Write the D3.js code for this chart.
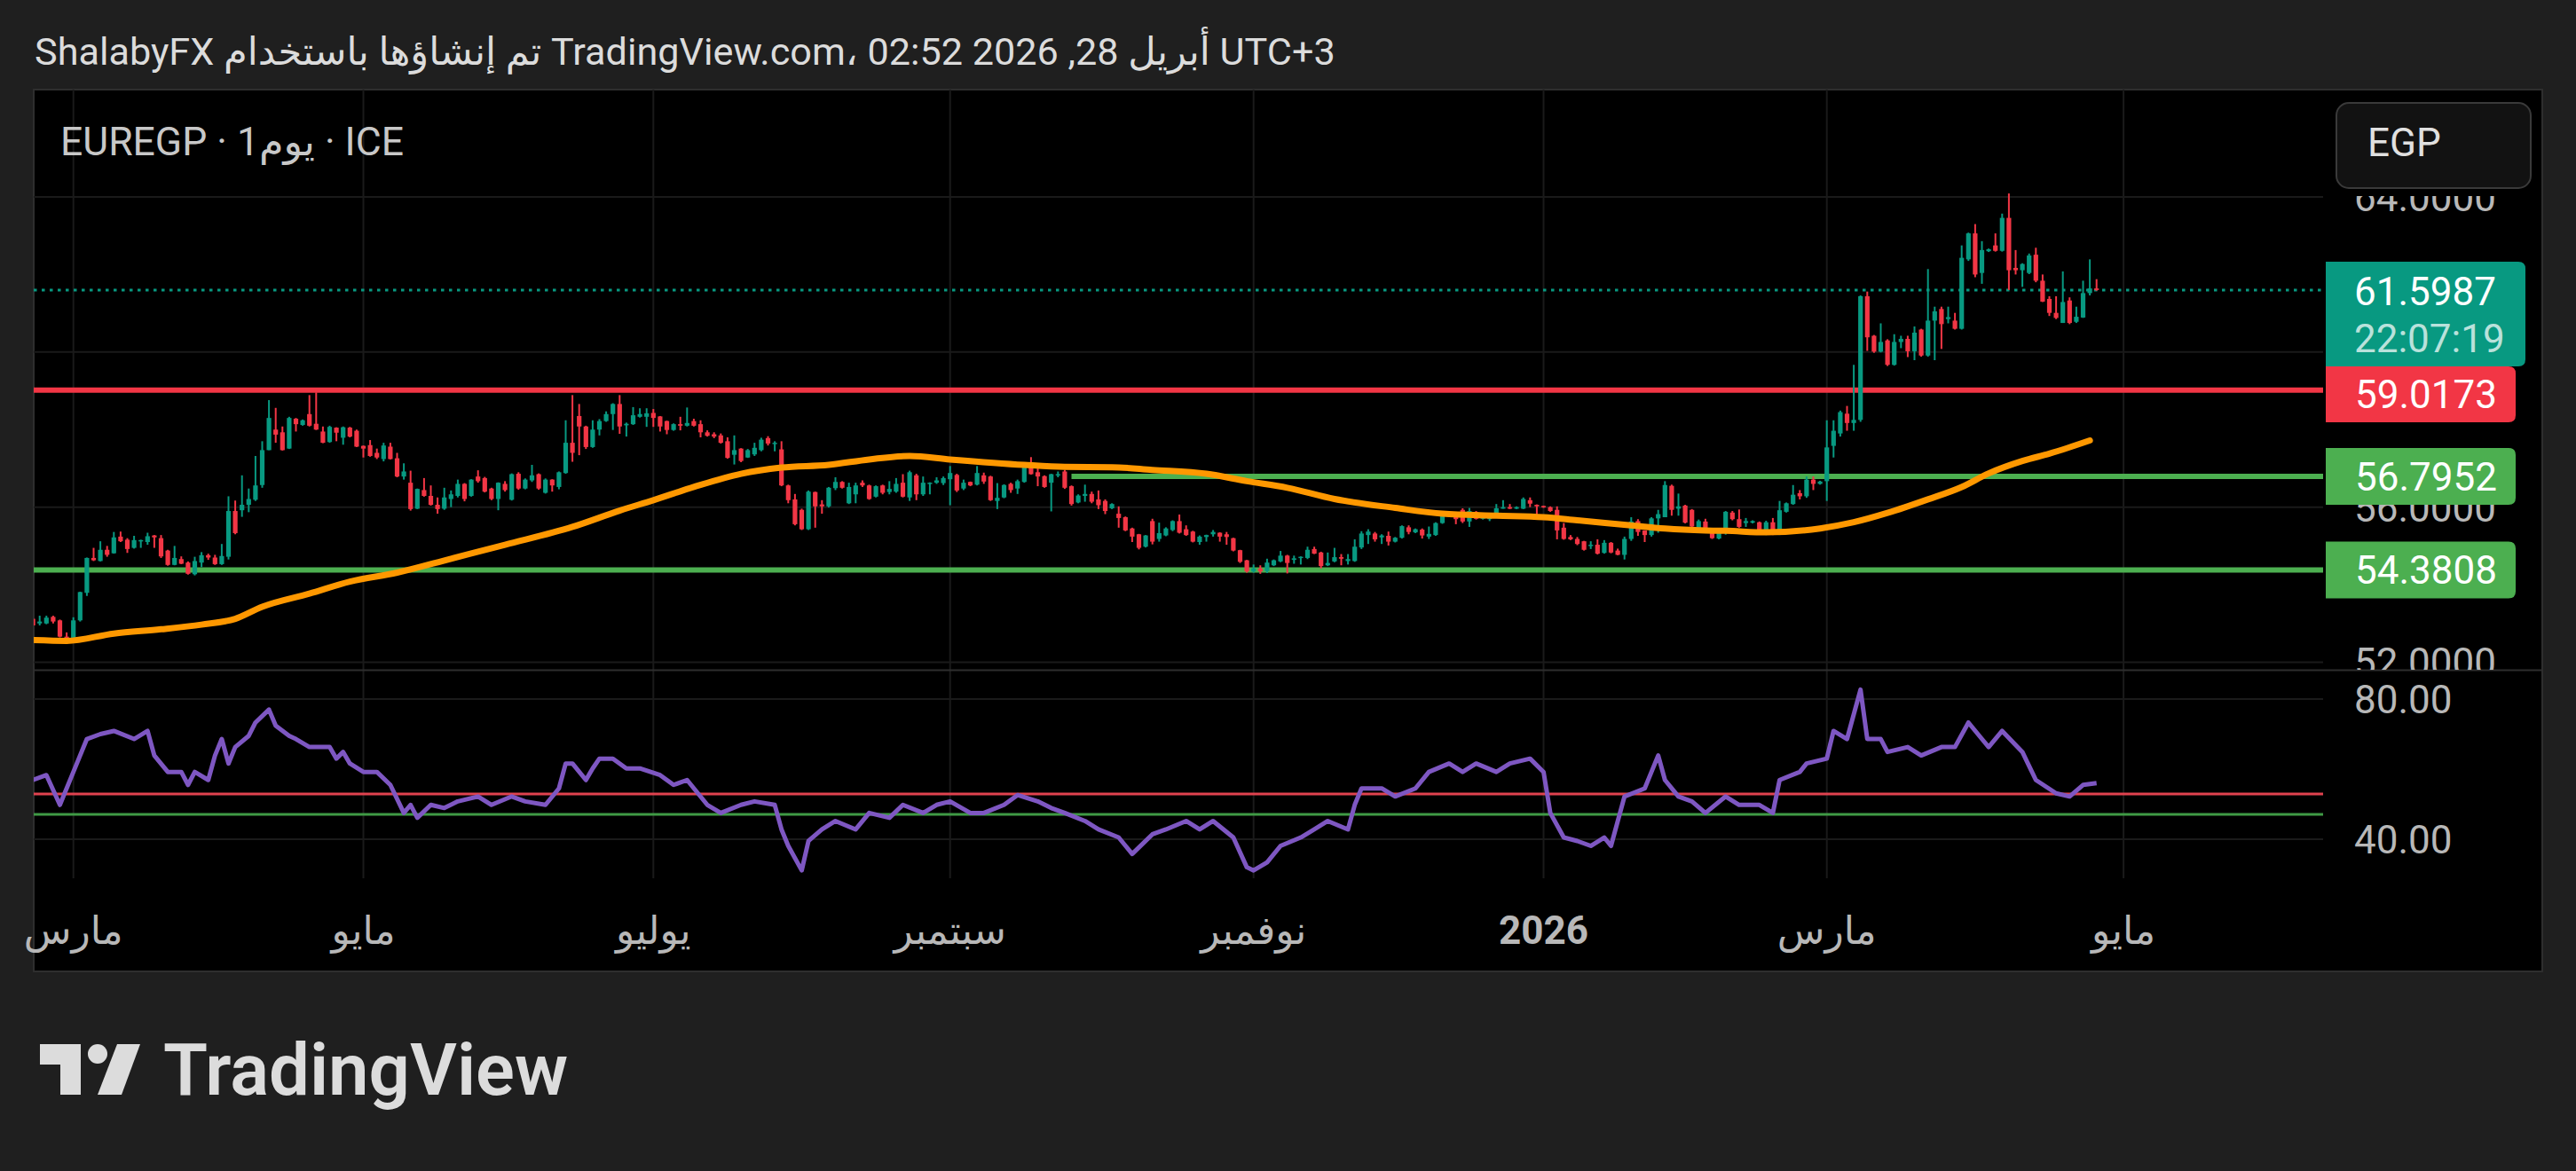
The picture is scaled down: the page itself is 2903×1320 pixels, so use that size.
<!DOCTYPE html>
<html>
<head>
<meta charset="utf-8">
<script src="https://cdnjs.cloudflare.com/ajax/libs/d3/7.8.5/d3.min.js"></script>
<style>
  body { margin: 0; background: #1f1f1f; }
  svg { display: block; }
  text { font-family: Roboto, "DejaVu Sans", sans-serif; }
</style>
</head>
<body>
<svg id="chart" width="2903" height="1320"></svg>
<script>
// ---- data ----
const startDate = "2025-02-21";   // first (clipped) daily bar

const opens = [
53.12,53.0,53.0,53.17,53.08,52.66,52.55,53.08,53.79,54.69,
54.61,54.9,54.81,55.24,55.16,54.95,55.12,55.1,55.27,55.2,
54.88,54.51,54.66,54.57,54.27,54.57,54.76,54.7,54.53,54.72,
55.9,55.92,56.06,56.19,56.57,57.47,58.0,57.93,57.51,58.28,
58.12,58.4,58.15,57.95,57.68,58.05,57.79,58.05,57.97,57.58,
57.6,57.4,57.24,57.56,57.26,56.79,56.63,55.96,56.44,56.29,
56.06,55.96,56.21,56.29,56.6,56.29,56.79,56.75,56.48,56.21,
56.6,56.19,56.86,56.48,56.69,56.85,56.37,56.71,56.52,56.88,
57.66,58.35,58.08,57.55,58.0,58.22,58.4,58.66,58.11,58.14,
58.33,58.33,58.43,58.34,58.22,57.99,58.14,58.1,58.22,58.14,
57.93,57.88,57.85,57.7,57.35,57.51,57.28,57.36,57.47,57.78,
57.64,57.49,56.56,56.2,55.93,55.43,56.39,56.07,56.02,56.49,
56.65,56.1,56.33,56.63,56.56,56.27,56.56,56.39,56.4,56.63,
56.25,56.82,56.33,56.6,56.63,56.62,56.72,56.83,56.48,56.65,
56.58,56.82,56.79,56.16,56.25,56.6,56.48,56.65,57.04,56.9,
56.8,56.63,56.82,56.92,56.54,56.12,56.29,56.34,56.2,56.16,
55.97,55.83,55.74,55.45,55.3,54.98,55.64,55.18,55.27,55.41,
55.64,55.43,55.37,55.1,55.23,55.3,55.34,55.3,55.2,54.89,
54.63,54.34,54.42,54.35,54.5,54.6,54.75,54.64,54.69,54.69,
54.92,54.83,54.5,54.6,54.71,54.61,54.61,54.96,55.28,55.32,
55.22,55.26,55.11,55.21,55.48,55.35,55.42,55.24,55.28,55.59,
55.82,55.81,55.93,55.63,55.87,55.7,55.69,55.74,55.96,56.0,
55.96,55.96,56.18,56.06,56.03,56.0,55.93,55.47,55.23,55.18,
55.12,55.0,55.03,54.82,55.08,54.88,54.77,55.18,55.64,55.4,
55.28,55.71,55.74,56.55,55.96,56.04,55.93,55.45,55.63,55.41,
55.19,55.33,55.86,55.69,55.59,55.6,55.61,55.33,55.61,55.29,
55.88,56.08,56.36,56.28,56.71,56.6,56.67,57.58,57.9,58.41,
58.17,58.25,61.44,60.42,60.01,60.3,59.67,60.26,60.34,60.02,
60.58,59.91,60.81,61.11,60.85,60.81,60.6,62.39,63.06,62.04,
62.6,62.75,62.61,63.46,62.17,62.11,62.04,62.51,61.84,61.37,
61.01,60.75,61.33,60.78,60.89,61.52,61.64];

const highs = [
53.15,53.2,53.2,53.2,53.1,52.77,53.16,53.82,54.7,54.95,
55.12,55.0,55.36,55.37,55.2,55.26,55.16,55.34,55.28,55.28,
54.9,55.0,54.73,54.6,54.72,54.84,54.8,54.77,55.05,56.28,
56.17,56.82,56.48,57.32,57.7,58.76,58.56,58.08,58.33,58.3,
58.26,58.89,58.96,58.08,58.1,58.06,58.08,58.07,58.0,57.59,
57.73,57.51,57.66,57.66,57.4,57.13,56.94,56.48,56.75,56.56,
56.25,56.5,56.43,56.71,56.62,56.72,56.95,56.78,56.5,56.64,
56.67,56.87,56.9,56.74,57.09,56.87,56.74,56.72,56.92,58.24,
58.89,58.66,58.1,58.24,58.27,58.47,58.68,58.89,58.18,58.58,
58.55,58.55,58.53,58.35,58.23,58.16,58.33,58.57,58.28,58.24,
57.98,57.93,57.9,57.8,57.85,57.52,57.5,57.66,57.79,57.83,
57.7,57.7,56.58,56.34,55.96,56.43,56.4,56.18,56.52,56.77,
56.67,56.63,56.63,56.69,56.58,56.56,56.58,56.67,56.75,56.85,
56.94,56.86,56.79,56.64,56.77,56.79,57.06,56.86,56.71,56.66,
57.06,56.89,56.81,56.62,56.59,56.63,56.71,57.09,57.29,57.11,
56.82,56.86,56.92,56.96,56.56,56.33,56.58,56.4,56.43,56.2,
56.1,56.02,55.76,55.47,55.31,55.28,55.7,55.6,55.48,55.66,
55.81,55.53,55.39,55.27,55.29,55.41,55.35,55.36,55.21,54.9,
54.64,54.52,54.5,54.67,54.65,54.87,54.77,54.75,54.73,54.98,
54.98,54.85,54.83,54.95,54.79,54.79,55.17,55.38,55.43,55.36,
55.3,55.37,55.23,55.53,55.53,55.45,55.45,55.5,55.61,55.87,
55.84,55.82,55.97,55.98,55.9,55.82,55.84,56.08,56.18,56.08,
56.02,56.25,56.25,56.07,56.04,56.02,56.02,55.59,55.28,55.23,
55.13,55.12,55.17,55.15,55.1,54.93,55.24,55.74,55.69,55.4,
55.74,55.93,56.67,56.58,56.35,56.06,55.95,55.68,55.7,55.45,
55.45,55.9,55.9,55.94,55.72,55.66,55.63,55.65,55.72,56.16,
56.12,56.57,56.44,56.79,56.79,56.68,58.24,58.24,58.49,58.61,
59.67,61.46,61.56,60.44,60.74,60.33,60.46,60.42,60.42,60.66,
60.6,62.14,61.17,61.17,61.17,61.01,62.75,63.08,63.3,62.86,
62.67,63.06,63.57,64.09,62.63,62.29,62.54,62.69,62.0,61.44,
61.44,62.08,61.41,61.17,61.84,62.39,61.88];

const lows = [
52.93,52.95,52.98,53.0,52.64,52.47,52.52,53.05,53.71,54.61,
54.6,54.72,54.8,55.1,54.82,54.93,54.95,55.03,54.95,54.69,
54.49,54.5,54.53,54.26,54.24,54.45,54.64,54.51,54.51,54.65,
55.3,55.75,55.87,56.16,56.5,57.47,57.66,57.46,57.5,57.95,
58.1,58.08,57.99,57.65,57.66,57.7,57.61,57.8,57.55,57.28,
57.3,57.24,57.18,57.23,56.77,56.71,55.91,55.95,56.27,56.04,
55.83,55.93,56.0,56.25,56.15,56.27,56.63,56.38,56.18,55.92,
56.4,56.17,56.45,56.46,56.65,56.45,56.35,56.4,56.46,56.86,
57.17,57.34,57.5,57.53,57.85,58.2,57.99,57.89,57.82,58.12,
58.31,58.07,58.07,57.95,57.88,57.97,57.98,58.08,58.08,57.8,
57.82,57.78,57.64,57.25,57.1,57.16,57.27,57.32,57.44,57.59,
57.44,56.54,56.1,55.53,55.41,55.41,55.47,55.83,55.99,56.44,
56.48,56.08,56.1,56.52,56.19,56.25,56.33,56.33,56.37,56.25,
56.16,56.18,56.29,56.33,56.6,56.57,56.05,56.39,56.44,56.54,
56.56,56.6,56.16,55.95,56.23,56.37,56.34,56.63,56.84,56.54,
56.5,55.89,56.77,56.47,56.04,56.1,56.14,56.1,55.95,55.82,
55.95,55.47,55.38,55.1,54.91,54.96,55.04,55.11,55.25,55.38,
55.32,55.26,55.09,55.03,55.11,55.24,55.11,55.03,54.86,54.56,
54.31,54.31,54.28,54.3,54.48,54.58,54.29,54.54,54.52,54.66,
54.79,54.42,54.48,54.58,54.5,54.52,54.59,54.92,55.05,55.11,
55.05,55.01,55.09,55.19,55.3,55.33,55.19,55.18,55.26,55.57,
55.75,55.56,55.59,55.49,55.68,55.68,55.64,55.72,55.96,55.95,
55.95,55.95,56.0,55.8,55.98,55.88,55.17,55.16,55.15,55.02,
54.88,54.92,54.78,54.8,54.81,54.76,54.65,55.13,55.26,55.1,
55.24,55.34,55.74,55.78,55.78,55.58,55.48,55.35,55.36,55.18,
55.17,55.29,55.66,55.47,55.49,55.58,55.31,55.28,55.28,55.28,
55.86,56.06,56.2,56.24,56.44,56.58,56.16,57.28,57.82,57.97,
57.97,58.2,60.03,59.98,59.99,59.64,59.65,60.1,59.87,59.79,
59.88,59.88,59.79,60.08,60.74,60.58,60.58,62.35,61.93,61.76,
62.58,62.59,62.59,61.6,62.0,61.68,62.01,61.8,61.29,60.93,
60.85,60.75,60.72,60.75,60.88,61.46,61.58];

const closes = [
52.95,53.05,53.15,53.05,52.66,52.55,53.08,53.81,54.69,54.63,
54.9,54.77,55.22,55.12,54.92,55.15,55.15,55.25,55.22,54.73,
54.51,54.69,54.54,54.28,54.61,54.76,54.7,54.53,54.74,55.9,
55.33,56.06,56.21,56.56,57.47,58.3,57.87,57.47,58.3,58.14,
58.24,58.1,58.0,57.66,58.07,57.92,58.06,57.82,57.56,57.51,
57.32,57.28,57.59,57.24,56.79,56.92,55.95,56.47,56.29,56.06,
55.95,56.25,56.33,56.6,56.21,56.71,56.67,56.4,56.21,56.63,
56.44,56.85,56.48,56.71,56.82,56.48,56.71,56.56,56.9,57.66,
57.4,58.08,57.55,58.0,58.22,58.4,58.66,58.08,58.15,58.37,
58.4,58.42,58.3,58.08,57.99,58.14,58.1,58.17,58.1,57.93,
57.84,57.82,57.66,57.27,57.47,57.19,57.47,57.53,57.74,57.64,
57.66,56.56,56.18,55.56,55.43,56.4,56.02,56.02,56.5,56.65,
56.5,56.52,56.56,56.56,56.21,56.54,56.37,56.47,56.6,56.27,
56.9,56.33,56.63,56.63,56.69,56.75,56.88,56.43,56.63,56.56,
56.88,56.66,56.18,56.24,56.57,56.44,56.67,57.08,56.85,56.79,
56.52,56.85,56.85,56.5,56.08,56.3,56.34,56.14,56.05,55.9,
56.08,55.72,55.4,55.24,54.95,55.27,55.11,55.33,55.45,55.64,
55.34,55.28,55.11,55.24,55.28,55.36,55.24,55.23,54.88,54.59,
54.34,54.42,54.34,54.57,54.63,54.75,54.56,54.68,54.72,54.9,
54.8,54.48,54.56,54.71,54.67,54.66,54.98,55.32,55.37,55.17,
55.27,55.11,55.21,55.51,55.36,55.43,55.27,55.31,55.59,55.84,
55.8,55.69,55.63,55.9,55.7,55.79,55.79,55.97,56.0,55.96,
56.0,56.21,56.09,56.02,56.0,55.9,55.4,55.18,55.17,55.05,
54.9,55.03,54.8,55.08,54.83,54.77,55.18,55.63,55.36,55.28,
55.71,55.82,56.57,55.93,56.02,55.6,55.5,55.64,55.4,55.2,
55.43,55.88,55.69,55.49,55.64,55.64,55.33,55.61,55.29,55.92,
56.1,56.32,56.28,56.71,56.6,56.66,57.54,57.97,58.45,58.17,
58.25,61.44,60.38,60.01,60.26,59.67,60.26,60.34,60.02,60.5,
59.91,60.81,61.05,60.72,60.9,60.6,62.43,63.06,62.0,62.63,
62.65,62.61,63.46,62.11,62.11,62.27,62.49,61.84,61.3,61.01,
60.88,61.29,60.75,60.91,61.52,61.64,61.6];

// orange moving average, read at these bars
const maIdx = [0,5,12,19,25,30,34,41,47,54,62,70,80,87,92,98,105,111,118,124,130,136,147,153,160,166,174,180,186,193,202,209,217,224,229,237,242,248,251,257,265,270,275,281,286,290,295,299,305];
const maVal = [52.57,52.55,52.74,52.85,52.97,53.12,53.43,53.77,54.08,54.31,54.67,55.03,55.49,55.91,56.18,56.52,56.86,57.02,57.09,57.23,57.32,57.23,57.09,57.04,57.03,56.96,56.86,56.67,56.5,56.21,55.98,55.83,55.78,55.74,55.66,55.53,55.45,55.4,55.39,55.35,55.45,55.61,55.85,56.2,56.52,56.87,57.19,57.38,57.72];

// RSI, read at these bars
const rsiIdx = [0,2,4,6,8,10,12,15,17,18,20,22,23,24,26,27,28,29,30,32,33,35,36,38,39,41,44,45,46,47,49,51,53,55,56,57,59,61,63,66,68,71,73,76,78,79,80,82,83,84,86,88,90,93,95,97,100,102,105,107,110,111,112,114,115,117,119,122,124,127,129,132,134,136,139,141,144,146,149,151,153,156,158,161,163,166,168,171,173,175,178,180,181,183,185,188,190,192,195,196,197,200,202,205,207,210,212,214,217,219,222,224,225,227,229,231,233,234,236,239,240,241,242,244,246,248,251,253,256,258,259,262,263,266,267,269,271,272,274,275,278,280,283,285,287,289,290,292,295,297,300,302,304,306];
const rsiVal = [56.9,58.3,49.8,59.2,68.6,70.0,70.9,68.6,70.9,63.9,59.2,59.2,55.5,59.2,56.9,63.9,68.6,61.6,66.3,69.5,73.3,77.0,72.4,69.5,68.6,66.3,66.3,63.0,64.9,61.6,59.2,59.2,55.5,47.5,49.8,46.1,49.8,48.9,50.8,52.2,49.8,52.2,50.8,49.8,54.5,61.6,61.6,56.9,60.2,63.0,63.0,60.2,60.2,58.3,55.5,56.9,49.8,47.5,49.8,50.8,49.8,42.8,38.1,31.1,39.5,42.8,45.2,42.8,47.5,46.1,49.8,47.5,49.8,50.8,47.5,47.5,49.8,52.6,50.8,48.9,47.5,45.2,42.8,40.5,35.8,41.4,42.8,45.2,42.8,45.2,40.5,32.0,31.1,33.4,38.1,40.5,42.8,45.2,42.8,49.8,54.5,54.5,52.2,54.5,59.2,61.6,59.2,61.6,59.2,61.6,63.0,59.2,47.5,40.5,39.5,38.1,40.5,38.1,52.2,54.5,59.2,63.9,56.9,52.2,50.8,47.5,52.2,49.8,49.8,47.5,56.9,59.2,61.6,63.0,70.9,68.6,82.7,68.6,68.6,64.9,66.3,63.9,66.3,66.3,73.3,68.6,66.3,70.9,64.9,56.9,53.1,52.2,55.5,56.0];

const lastPrice = 61.5987;
const countdown = "22:07:19";
const levelValues = [59.0173, 56.7952, 54.3808];
const levelFromBar = [0, 154, 0];
const rsiLevels = [52.9, 47.1];

const priceTicks = [52, 56, 60, 64];
const priceLabelTicks = [52, 56, 64];
const rsiTicks = [40, 80];
const tickDates = ["2025-03-03","2025-05-01","2025-07-01","2025-09-01","2025-11-03","2026-01-01","2026-03-02","2026-05-01"];
const tickLabels = ["مارس","مايو","يوليو","سبتمبر","نوفمبر","2026","مارس","مايو"];

const titleText = "ShalabyFX تم إنشاؤها باستخدام TradingView.com، أبريل 28, 2026 02:52 UTC+3";
const legendText = "EUREGP · 1يوم · ICE";
const currency = "EGP";

// ---- layout ----
const W = 2903, H = 1320;
const frame = {left: 38, top: 101, right: 2865, bottom: 1095};
const plotRight = 2618;
const pane = {top: 101, bottom: 755};
const rsiPane = {top: 756, bottom: 995};

const up = "#089981", down = "#f23645", green = "#4caf50";
const gridColor = "#1a1a1a", axisText = "#b8b8b8";

const svg = d3.select("#chart");
svg.append("rect").attr("width", W).attr("height", H).attr("fill", "#1f1f1f");

const parse = d3.timeParse("%Y-%m-%d");
const t0 = parse(startDate);
function barIndex(s) {
  return d3.timeDay.range(t0, parse(s)).filter(d => d.getDay() % 6 !== 0).length;
}

const x = d3.scaleLinear().domain([0, 306]).range([37.1, 37.1 + 7.6 * 306]);
const y = d3.scaleLinear().domain([52, 64]).range([746.5, 222]);
const yR = d3.scaleLinear().domain([40, 80]).range([946, 788]);

const defs = svg.append("defs");
defs.append("clipPath").attr("id", "clip-price").append("rect")
  .attr("x", frame.left).attr("y", pane.top).attr("width", plotRight - frame.left).attr("height", pane.bottom - pane.top);
defs.append("clipPath").attr("id", "clip-rsi").append("rect")
  .attr("x", frame.left).attr("y", rsiPane.top).attr("width", plotRight - frame.left).attr("height", rsiPane.bottom - rsiPane.top);
defs.append("clipPath").attr("id", "clip-axis").append("rect")
  .attr("x", plotRight).attr("y", pane.top).attr("width", frame.right - plotRight).attr("height", pane.bottom - pane.top);

// title
svg.append("text").attr("x", 39).attr("y", 73).attr("fill", "#dcdcdc")
  .style("font-size", "43.2px").text(titleText);

// frame
svg.append("rect").attr("x", frame.left).attr("y", frame.top)
  .attr("width", frame.right - frame.left).attr("height", frame.bottom - frame.top)
  .attr("fill", "#000").attr("stroke", "#2e2e2e").attr("stroke-width", 2);

// grid
const ticks = tickDates.map(barIndex);
svg.append("g").selectAll("line").data(ticks).join("line")
  .attr("x1", d => x(d)).attr("x2", d => x(d))
  .attr("y1", frame.top).attr("y2", 990)
  .attr("stroke", gridColor).attr("stroke-width", 2);
svg.append("g").selectAll("line").data(priceTicks).join("line")
  .attr("x1", frame.left).attr("x2", plotRight)
  .attr("y1", d => y(d)).attr("y2", d => y(d))
  .attr("stroke", gridColor).attr("stroke-width", 2);
svg.append("g").selectAll("line").data(rsiTicks).join("line")
  .attr("x1", frame.left).attr("x2", plotRight)
  .attr("y1", d => yR(d)).attr("y2", d => yR(d))
  .attr("stroke", gridColor).attr("stroke-width", 2);

// pane separator
svg.append("line").attr("x1", frame.left).attr("x2", frame.right)
  .attr("y1", 755.5).attr("y2", 755.5).attr("stroke", "#2e2e2e").attr("stroke-width", 2);

// legend
svg.append("text").attr("x", 68).attr("y", 175).attr("fill", "#c8c8c8")
  .style("font-size", "44.5px").text(legendText);

// price pane content
const gp = svg.append("g").attr("clip-path", "url(#clip-price)");

gp.selectAll(".level").data(levelValues).join("line").attr("class", "level")
  .attr("x1", (d, i) => i === 1 ? x(levelFromBar[i]) : frame.left).attr("x2", plotRight)
  .attr("y1", d => y(d)).attr("y2", d => y(d))
  .attr("stroke", (d, i) => i === 0 ? down : green).attr("stroke-width", 6);

gp.append("line").attr("x1", frame.left).attr("x2", plotRight)
  .attr("y1", y(lastPrice)).attr("y2", y(lastPrice))
  .attr("stroke", up).attr("stroke-width", 3).attr("stroke-dasharray", "3.5 5.5");

const bars = d3.range(closes.length);
gp.append("g").selectAll("line").data(bars).join("line")
  .attr("x1", i => x(i)).attr("x2", i => x(i))
  .attr("y1", i => y(highs[i])).attr("y2", i => y(lows[i]))
  .attr("stroke", i => closes[i] >= opens[i] ? up : down).attr("stroke-width", 2);
gp.append("g").selectAll("rect").data(bars).join("rect")
  .attr("x", i => x(i) - 2.6).attr("width", 5.2)
  .attr("y", i => y(Math.max(opens[i], closes[i])))
  .attr("height", i => Math.max(1.5, Math.abs(y(opens[i]) - y(closes[i]))))
  .attr("fill", i => closes[i] >= opens[i] ? up : down);

const maLine = d3.line().x(i => x(maIdx[i])).y(i => y(maVal[i])).curve(d3.curveMonotoneX);
gp.append("path").attr("d", maLine(d3.range(maIdx.length)))
  .attr("fill", "none").attr("stroke", "#ff9800").attr("stroke-width", 7)
  .attr("stroke-linecap", "round");

// price axis labels
const ga = svg.append("g").attr("clip-path", "url(#clip-axis)");
ga.selectAll("text").data(priceLabelTicks).join("text")
  .attr("x", 2653).attr("y", d => y(d)).attr("dy", "0.36em")
  .attr("fill", axisText).style("font-size", "44px")
  .text(d3.format(".4f"));
ga.append("rect").attr("x", plotRight + 1).attr("y", frame.top + 1)
  .attr("width", frame.right - plotRight - 2).attr("height", 220 - frame.top).attr("fill", "#000");

// currency button
svg.append("rect").attr("x", 2633).attr("y", 116).attr("width", 219).attr("height", 96)
  .attr("rx", 14).attr("fill", "#121212").attr("stroke", "#3a3a3a").attr("stroke-width", 2);
svg.append("text").attr("x", 2668).attr("y", 160).attr("dy", "0.36em")
  .attr("fill", "#e0e0e0").style("font-size", "44px").text(currency);

// price labels
function tag(top, h, w, color) {
  const r = 8, x0 = 2621;
  svg.append("path").attr("fill", color)
    .attr("d", `M${x0},${top}H${x0 + w - r}Q${x0 + w},${top} ${x0 + w},${top + r}V${top + h - r}Q${x0 + w},${top + h} ${x0 + w - r},${top + h}H${x0}Z`);
}
tag(295, 118, 225, up);
svg.append("text").attr("x", 2653).attr("y", 328).attr("dy", "0.36em").attr("fill", "#fff")
  .style("font-size", "44px").text(lastPrice.toFixed(4));
svg.append("text").attr("x", 2653).attr("y", 381).attr("dy", "0.36em").attr("fill", "rgba(255,255,255,0.72)")
  .style("font-size", "44px").text(countdown);
levelValues.forEach((v, i) => {
  const cy = y(v);
  const top = i === 0 ? 413 : cy - 32;
  tag(top, i === 0 ? 63 : 64, 214, i === 0 ? down : green);
  svg.append("text").attr("x", 2654).attr("y", i === 0 ? 444 : cy).attr("dy", "0.36em")
    .attr("fill", "#fff").style("font-size", "44px").text(v.toFixed(4));
});

// RSI pane
const gr = svg.append("g").attr("clip-path", "url(#clip-rsi)");
gr.selectAll("line").data(rsiLevels).join("line")
  .attr("x1", frame.left).attr("x2", plotRight)
  .attr("y1", d => yR(d)).attr("y2", d => yR(d))
  .attr("stroke", (d, i) => i === 0 ? "#e0424f" : "#3f9a45").attr("stroke-width", 3);
const rsiLine = d3.line().x(i => x(rsiIdx[i])).y(i => yR(rsiVal[i]));
gr.append("path").attr("d", rsiLine(d3.range(rsiIdx.length)))
  .attr("fill", "none").attr("stroke", "#7e57c2").attr("stroke-width", 5)
  .attr("stroke-linejoin", "round");

svg.append("g").selectAll("text").data(rsiTicks).join("text")
  .attr("x", 2653).attr("y", d => yR(d)).attr("dy", "0.36em")
  .attr("fill", axisText).style("font-size", "44px")
  .text(d3.format(".2f"));

// time axis
svg.append("g").selectAll("text").data(ticks).join("text")
  .attr("x", d => x(d)).attr("y", 1048).attr("dy", "0.36em")
  .attr("text-anchor", "middle").attr("fill", axisText)
  .style("font-size", "44px")
  .style("font-weight", (d, i) => tickLabels[i] === "2026" ? "700" : "400")
  .text((d, i) => tickLabels[i]);

// TradingView logo
const logo = svg.append("g").attr("fill", "#dcdcdc");
logo.append("rect").attr("x", 45).attr("y", 1177).attr("width", 46).attr("height", 23);
logo.append("rect").attr("x", 68).attr("y", 1177).attr("width", 23).attr("height", 57);
logo.append("circle").attr("cx", 110).attr("cy", 1188).attr("r", 11);
logo.append("path").attr("d", "M132,1177H158L137,1234H110Z");
logo.append("text").attr("x", 184).attr("y", 1234)
  .style("font-size", "81.5px").style("font-weight", "600").text("TradingView");
</script>
</body>
</html>
